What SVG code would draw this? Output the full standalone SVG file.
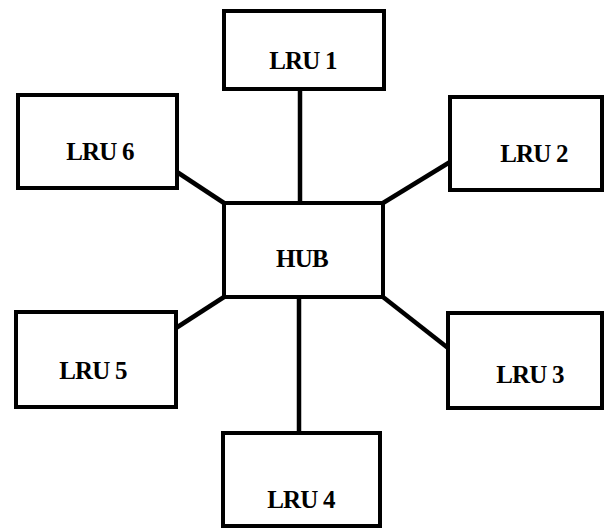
<svg xmlns="http://www.w3.org/2000/svg" width="605" height="529" viewBox="0 0 605 529">
  <style>
    .box { fill: #ffffff; stroke: #000000; stroke-width: 4; stroke-linejoin: miter; }
    .lbl { font-family: "Liberation Serif", "Times New Roman", serif; font-weight: bold; font-size: 25px; fill: #000000; text-anchor: middle; letter-spacing: -0.8px; }
    .wire { stroke: #000000; stroke-width: 4.5; fill: none; stroke-linecap: butt; }
  </style>
  <rect width="605" height="529" fill="#ffffff"/>

  <!-- links from the hub to each LRU -->
  <g id="connectors">
    <line class="wire" x1="300" y1="89" x2="300" y2="203"/>
    <line class="wire" x1="177" y1="172" x2="224" y2="203"/>
    <line class="wire" x1="383" y1="203" x2="450" y2="162"/>
    <line class="wire" x1="224" y1="297" x2="176" y2="328"/>
    <line class="wire" x1="383" y1="297" x2="448" y2="348"/>
    <line class="wire" x1="299" y1="297" x2="299" y2="433"/>
  </g>

  <g id="hub">
    <rect class="box" x="224" y="203" width="159" height="94"/>
    <text class="lbl" x="302" y="267">HUB</text>
  </g>

  <g id="lru1">
    <rect class="box" x="224" y="11" width="160" height="78"/>
    <text class="lbl" x="303" y="69">LRU 1</text>
  </g>

  <g id="lru2">
    <rect class="box" x="450" y="97" width="152" height="93"/>
    <text class="lbl" x="534" y="162">LRU 2</text>
  </g>

  <g id="lru3">
    <rect class="box" x="448" y="313" width="154" height="95"/>
    <text class="lbl" x="530" y="383">LRU 3</text>
  </g>

  <g id="lru4">
    <rect class="box" x="223" y="433" width="157" height="93"/>
    <text class="lbl" x="301" y="508">LRU 4</text>
  </g>

  <g id="lru5">
    <rect class="box" x="16" y="312" width="160" height="95"/>
    <text class="lbl" x="93" y="379">LRU 5</text>
  </g>

  <g id="lru6">
    <rect class="box" x="18" y="95" width="159" height="93"/>
    <text class="lbl" x="100" y="160">LRU 6</text>
  </g>
</svg>
